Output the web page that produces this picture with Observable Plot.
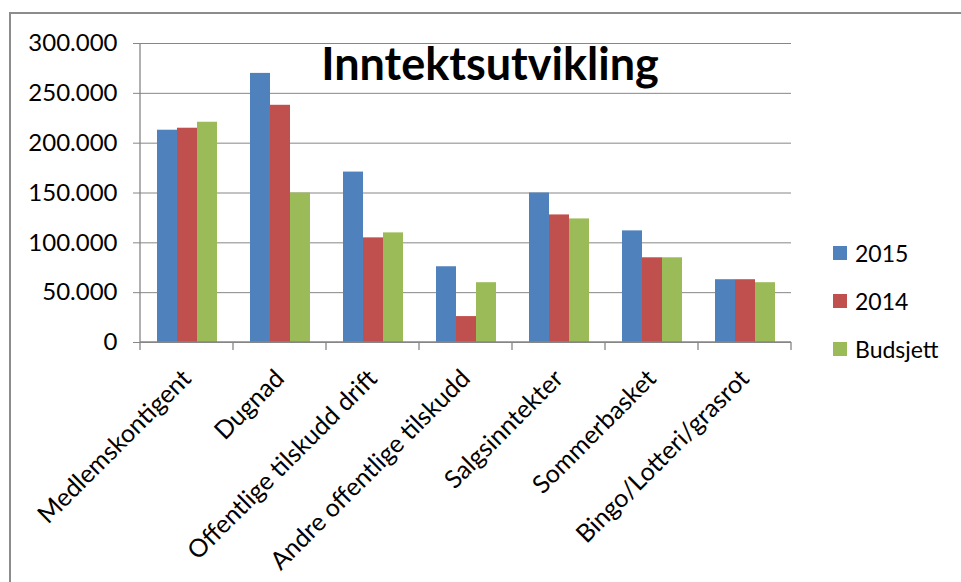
<!DOCTYPE html>
<html><head><meta charset="utf-8">
<script src="https://cdn.jsdelivr.net/npm/d3@7"></script>
<script src="https://cdn.jsdelivr.net/npm/@observablehq/plot@0.6"></script>
<style>
body{margin:0;background:#fff;font-family:Lato, sans-serif;}
#wrap{position:relative;width:961px;height:582px;overflow:hidden;}
#frame{position:absolute;left:9px;top:12px;width:1000px;height:1000px;border:2px solid #8c8c8c;box-sizing:border-box;}
#chart{position:absolute;left:0;top:0;}
#title{position:absolute;left:0;width:980px;text-align:center;top:41px;font:bold 45px Lato, sans-serif;color:#000;line-height:1;}
#legend{position:absolute;left:833px;top:229px;font:23px Lato, sans-serif;color:#000;}
.row{display:flex;align-items:center;height:48px;}
.sw{width:14px;height:14px;margin-right:8px;}
</style></head><body>
<div id="wrap"><div id="frame"></div><div id="chart"></div><div id="title">Inntektsutvikling</div><div id="legend"></div></div>
<script>
const categories = ["Medlemskontigent","Dugnad","Offentlige tilskudd drift","Andre offentlige tilskudd","Salgsinntekter","Sommerbasket","Bingo/Lotteri/grasrot"];
const series = ["2015","2014","Budsjett"];
const values2015 = [213000,270000,171000,76000,150000,112000,63000];
const values2014 = [215000,238000,105000,26000,128000,85000,63000];
const valuesBudsjett = [221000,150000,110000,60000,124000,85000,60000];
const yTicks = [0,50000,100000,150000,200000,250000,300000];
const colors = ["#4F81BD","#C0504D","#9BBB59"];

const seriesValues = [values2015, values2014, valuesBudsjett];
const data = [];
categories.forEach((c, i) => series.forEach((s, j) => data.push({category: c, series: s, value: seriesValues[j][i]})));

const nf = d3.formatLocale({decimal: ",", thousands: ".", grouping: [3], currency: ["", ""]}).format(",d");
const gridColor = "#868686";

const plot = Plot.plot({
  width: 961, height: 582,
  marginLeft: 140, marginRight: 170, marginTop: 43, marginBottom: 240,
  style: {fontFamily: "Lato, sans-serif", fontSize: "22px", color: "#000", background: "transparent", overflow: "visible"},
  fx: {domain: categories, padding: 0, label: null},
  x: {domain: series, paddingInner: 0, paddingOuter: 0.79, axis: null},
  y: {domain: [0, 300000], label: null},
  color: {domain: series, range: colors},
  marks: [
    Plot.gridY(yTicks, {stroke: gridColor, strokeOpacity: 1, strokeWidth: 1}),
    Plot.barY(data, {fx: "category", x: "series", y: "value", fill: "series"}),
    Plot.axisY(yTicks, {tickSize: 7, tickPadding: 16, tickFormat: nf, stroke: gridColor, fill: "#000", fontSize: 24, label: null}),
    Plot.axisFx({anchor: "bottom", tickRotate: -45, tickSize: 0, tickPadding: 12, fontSize: 25, dx: 0, dy: 20, fill: "#000", label: null})
  ]
});
document.getElementById("chart").appendChild(plot);

// axis lines and category boundary ticks drawn from the plot's own scales
const fx = plot.scale("fx"), y = plot.scale("y");
const g = d3.select(plot).append("g").attr("stroke", gridColor).attr("stroke-width", 1.3);
const x0 = fx.apply(categories[0]);
const x1 = fx.apply(categories[categories.length - 1]) + fx.bandwidth;
const y0 = y.apply(0), yTop = y.apply(300000);
g.append("line").attr("x1", x0).attr("x2", x0).attr("y1", yTop).attr("y2", y0 + 8);
g.append("line").attr("x1", x0).attr("x2", x1).attr("y1", y0).attr("y2", y0);
categories.forEach((c, i) => {
  const xb = fx.apply(c) + fx.bandwidth;
  g.append("line").attr("x1", xb).attr("x2", xb).attr("y1", y0).attr("y2", y0 + 8);
});

const legend = d3.select("#legend");
series.forEach((s, i) => {
  const r = legend.append("div").attr("class", "row");
  r.append("div").attr("class", "sw").style("background", colors[i]);
  r.append("span").text(s);
});
</script>
</body></html>
